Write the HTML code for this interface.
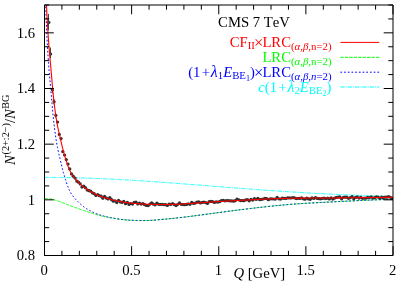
<!DOCTYPE html>
<html><head><meta charset="utf-8"><title>CMS 7 TeV</title>
<style>
html,body{margin:0;padding:0;background:#fff;}
body{width:399px;height:282px;overflow:hidden;font-family:"Liberation Serif",serif;}
svg{display:block;will-change:transform;}
</style></head><body>
<svg width="399" height="282" viewBox="0 0 399 282"><rect width="399" height="282" fill="#fff"/><defs><clipPath id="c"><rect x="44.50" y="5.00" width="348.50" height="250.50"/></clipPath></defs><g clip-path="url(#c)" fill="none" stroke-width="1"><path d="M44.50,177.40L45.00,177.40L45.50,177.40L46.00,177.40L46.49,177.40L46.99,177.40L47.49,177.40L47.99,177.40L48.49,177.40L48.99,177.41L49.49,177.41L49.98,177.41L50.48,177.41L50.98,177.42L51.48,177.42L51.98,177.42L52.48,177.42L52.98,177.43L53.47,177.43L53.97,177.43L54.47,177.44L54.97,177.44L55.47,177.45L55.97,177.45L56.47,177.46L56.96,177.46L57.46,177.47L57.96,177.47L58.46,177.48L58.96,177.48L59.46,177.49L59.96,177.49L60.45,177.50L60.95,177.51L61.45,177.51L61.95,177.52L62.45,177.53L62.95,177.53L63.45,177.54L63.94,177.55L64.44,177.56L64.94,177.56L65.44,177.57L65.94,177.58L66.44,177.59L66.94,177.60L67.43,177.61L67.93,177.62L68.43,177.63L68.93,177.64L69.43,177.65L69.93,177.66L70.43,177.67L70.92,177.68L71.42,177.69L71.92,177.70L72.42,177.71L72.92,177.72L73.42,177.73L73.92,177.74L74.41,177.75L74.91,177.77L75.41,177.78L75.91,177.79L76.41,177.80L76.91,177.81L77.41,177.83L77.90,177.84L78.40,177.85L78.90,177.87L79.40,177.88L79.90,177.89L80.40,177.91L80.90,177.92L81.39,177.94L81.89,177.95L82.39,177.97L82.89,177.98L83.39,178.00L83.89,178.01L84.39,178.03L84.88,178.04L85.38,178.06L85.88,178.07L86.38,178.09L86.88,178.11L87.38,178.12L87.88,178.14L88.37,178.15L88.87,178.17L89.37,178.19L89.87,178.21L90.37,178.22L90.87,178.24L91.37,178.26L91.86,178.28L92.36,178.30L92.86,178.31L93.36,178.33L93.86,178.35L94.36,178.37L94.86,178.39L95.35,178.41L95.85,178.43L96.35,178.45L96.85,178.47L97.35,178.49L97.85,178.51L98.35,178.53L98.84,178.55L99.34,178.57L99.84,178.59L100.34,178.61L100.84,178.63L101.34,178.65L101.84,178.67L102.33,178.70L102.83,178.72L103.33,178.74L103.83,178.76L104.33,178.78L104.83,178.81L105.33,178.83L105.82,178.85L106.32,178.87L106.82,178.90L107.32,178.92L107.82,178.94L108.32,178.97L108.82,178.99L109.31,179.02L109.81,179.04L110.31,179.06L110.81,179.09L111.31,179.11L111.81,179.14L112.31,179.16L112.80,179.19L113.30,179.21L113.80,179.24L114.30,179.26L114.80,179.29L115.30,179.31L115.80,179.34L116.29,179.36L116.79,179.39L117.29,179.42L117.79,179.44L118.29,179.47L118.79,179.50L119.29,179.52L119.78,179.55L120.28,179.58L120.78,179.60L121.28,179.63L121.78,179.66L122.28,179.69L122.78,179.71L123.27,179.74L123.77,179.77L124.27,179.80L124.77,179.83L125.27,179.86L125.77,179.88L126.27,179.91L126.76,179.94L127.26,179.97L127.76,180.00L128.26,180.03L128.76,180.06L129.26,180.09L129.76,180.12L130.25,180.15L130.75,180.18L131.25,180.21L131.75,180.24L132.25,180.27L132.75,180.30L133.25,180.33L133.74,180.36L134.24,180.39L134.74,180.42L135.24,180.45L135.74,180.48L136.24,180.51L136.74,180.55L137.23,180.58L137.73,180.61L138.23,180.64L138.73,180.67L139.23,180.70L139.73,180.74L140.23,180.77L140.72,180.80L141.22,180.83L141.72,180.86L142.22,180.90L142.72,180.93L143.22,180.96L143.72,181.00L144.21,181.03L144.71,181.06L145.21,181.09L145.71,181.13L146.21,181.16L146.71,181.20L147.21,181.23L147.70,181.26L148.20,181.30L148.70,181.33L149.20,181.36L149.70,181.40L150.20,181.43L150.70,181.47L151.19,181.50L151.69,181.54L152.19,181.57L152.69,181.60L153.19,181.64L153.69,181.67L154.19,181.71L154.68,181.74L155.18,181.78L155.68,181.81L156.18,181.85L156.68,181.88L157.18,181.92L157.68,181.96L158.17,181.99L158.67,182.03L159.17,182.06L159.67,182.10L160.17,182.13L160.67,182.17L161.17,182.21L161.66,182.24L162.16,182.28L162.66,182.31L163.16,182.35L163.66,182.39L164.16,182.42L164.66,182.46L165.15,182.50L165.65,182.53L166.15,182.57L166.65,182.61L167.15,182.64L167.65,182.68L168.15,182.72L168.64,182.75L169.14,182.79L169.64,182.83L170.14,182.87L170.64,182.90L171.14,182.94L171.64,182.98L172.13,183.02L172.63,183.05L173.13,183.09L173.63,183.13L174.13,183.17L174.63,183.20L175.13,183.24L175.62,183.28L176.12,183.32L176.62,183.36L177.12,183.39L177.62,183.43L178.12,183.47L178.62,183.51L179.11,183.55L179.61,183.58L180.11,183.62L180.61,183.66L181.11,183.70L181.61,183.74L182.11,183.78L182.60,183.82L183.10,183.85L183.60,183.89L184.10,183.93L184.60,183.97L185.10,184.01L185.60,184.05L186.09,184.09L186.59,184.12L187.09,184.16L187.59,184.20L188.09,184.24L188.59,184.28L189.09,184.32L189.58,184.36L190.08,184.40L190.58,184.44L191.08,184.48L191.58,184.51L192.08,184.55L192.58,184.59L193.07,184.63L193.57,184.67L194.07,184.71L194.57,184.75L195.07,184.79L195.57,184.83L196.07,184.87L196.56,184.91L197.06,184.95L197.56,184.99L198.06,185.02L198.56,185.06L199.06,185.10L199.56,185.14L200.05,185.18L200.55,185.22L201.05,185.26L201.55,185.30L202.05,185.34L202.55,185.38L203.05,185.42L203.54,185.46L204.04,185.50L204.54,185.54L205.04,185.58L205.54,185.62L206.04,185.66L206.54,185.70L207.03,185.73L207.53,185.77L208.03,185.81L208.53,185.85L209.03,185.89L209.53,185.93L210.03,185.97L210.52,186.01L211.02,186.05L211.52,186.09L212.02,186.13L212.52,186.17L213.02,186.21L213.52,186.25L214.01,186.29L214.51,186.33L215.01,186.37L215.51,186.41L216.01,186.45L216.51,186.48L217.01,186.52L217.50,186.56L218.00,186.60L218.50,186.64L219.00,186.68L219.50,186.72L220.00,186.76L220.49,186.80L220.99,186.84L221.49,186.88L221.99,186.92L222.49,186.96L222.99,187.00L223.49,187.03L223.98,187.07L224.48,187.11L224.98,187.15L225.48,187.19L225.98,187.23L226.48,187.27L226.98,187.31L227.47,187.35L227.97,187.39L228.47,187.43L228.97,187.46L229.47,187.50L229.97,187.54L230.47,187.58L230.96,187.62L231.46,187.66L231.96,187.70L232.46,187.74L232.96,187.77L233.46,187.81L233.96,187.85L234.45,187.89L234.95,187.93L235.45,187.97L235.95,188.01L236.45,188.04L236.95,188.08L237.45,188.12L237.94,188.16L238.44,188.20L238.94,188.23L239.44,188.27L239.94,188.31L240.44,188.35L240.94,188.39L241.43,188.43L241.93,188.46L242.43,188.50L242.93,188.54L243.43,188.58L243.93,188.61L244.43,188.65L244.92,188.69L245.42,188.73L245.92,188.76L246.42,188.80L246.92,188.84L247.42,188.88L247.92,188.91L248.41,188.95L248.91,188.99L249.41,189.03L249.91,189.06L250.41,189.10L250.91,189.14L251.41,189.17L251.90,189.21L252.40,189.25L252.90,189.29L253.40,189.32L253.90,189.36L254.40,189.40L254.90,189.43L255.39,189.47L255.89,189.51L256.39,189.54L256.89,189.58L257.39,189.61L257.89,189.65L258.39,189.69L258.88,189.72L259.38,189.76L259.88,189.79L260.38,189.83L260.88,189.87L261.38,189.90L261.88,189.94L262.37,189.97L262.87,190.01L263.37,190.05L263.87,190.08L264.37,190.12L264.87,190.15L265.37,190.19L265.86,190.22L266.36,190.26L266.86,190.29L267.36,190.33L267.86,190.36L268.36,190.40L268.86,190.43L269.35,190.47L269.85,190.50L270.35,190.54L270.85,190.57L271.35,190.61L271.85,190.64L272.35,190.67L272.84,190.71L273.34,190.74L273.84,190.78L274.34,190.81L274.84,190.84L275.34,190.88L275.84,190.91L276.33,190.95L276.83,190.98L277.33,191.01L277.83,191.05L278.33,191.08L278.83,191.11L279.33,191.15L279.82,191.18L280.32,191.21L280.82,191.25L281.32,191.28L281.82,191.31L282.32,191.35L282.82,191.38L283.31,191.41L283.81,191.44L284.31,191.48L284.81,191.51L285.31,191.54L285.81,191.57L286.31,191.61L286.80,191.64L287.30,191.67L287.80,191.70L288.30,191.73L288.80,191.77L289.30,191.80L289.80,191.83L290.29,191.86L290.79,191.89L291.29,191.92L291.79,191.96L292.29,191.99L292.79,192.02L293.29,192.05L293.78,192.08L294.28,192.11L294.78,192.14L295.28,192.17L295.78,192.20L296.28,192.23L296.78,192.26L297.27,192.29L297.77,192.33L298.27,192.36L298.77,192.39L299.27,192.42L299.77,192.45L300.27,192.48L300.76,192.51L301.26,192.54L301.76,192.56L302.26,192.59L302.76,192.62L303.26,192.65L303.76,192.68L304.25,192.71L304.75,192.74L305.25,192.77L305.75,192.80L306.25,192.83L306.75,192.86L307.25,192.89L307.74,192.91L308.24,192.94L308.74,192.97L309.24,193.00L309.74,193.03L310.24,193.06L310.74,193.08L311.23,193.11L311.73,193.14L312.23,193.17L312.73,193.20L313.23,193.22L313.73,193.25L314.23,193.28L314.72,193.31L315.22,193.33L315.72,193.36L316.22,193.39L316.72,193.42L317.22,193.44L317.72,193.47L318.21,193.50L318.71,193.52L319.21,193.55L319.71,193.58L320.21,193.60L320.71,193.63L321.21,193.65L321.70,193.68L322.20,193.71L322.70,193.73L323.20,193.76L323.70,193.79L324.20,193.81L324.70,193.84L325.19,193.86L325.69,193.89L326.19,193.91L326.69,193.94L327.19,193.96L327.69,193.99L328.19,194.01L328.68,194.04L329.18,194.06L329.68,194.09L330.18,194.11L330.68,194.14L331.18,194.16L331.68,194.19L332.17,194.21L332.67,194.23L333.17,194.26L333.67,194.28L334.17,194.31L334.67,194.33L335.17,194.35L335.66,194.38L336.16,194.40L336.66,194.43L337.16,194.45L337.66,194.47L338.16,194.50L338.66,194.52L339.15,194.54L339.65,194.56L340.15,194.59L340.65,194.61L341.15,194.63L341.65,194.66L342.15,194.68L342.64,194.70L343.14,194.72L343.64,194.75L344.14,194.77L344.64,194.79L345.14,194.81L345.64,194.83L346.13,194.86L346.63,194.88L347.13,194.90L347.63,194.92L348.13,194.94L348.63,194.96L349.13,194.99L349.62,195.01L350.12,195.03L350.62,195.05L351.12,195.07L351.62,195.09L352.12,195.11L352.62,195.13L353.11,195.15L353.61,195.17L354.11,195.19L354.61,195.21L355.11,195.23L355.61,195.25L356.11,195.28L356.60,195.30L357.10,195.32L357.60,195.33L358.10,195.35L358.60,195.37L359.10,195.39L359.60,195.41L360.09,195.43L360.59,195.45L361.09,195.47L361.59,195.49L362.09,195.51L362.59,195.53L363.09,195.55L363.58,195.57L364.08,195.59L364.58,195.60L365.08,195.62L365.58,195.64L366.08,195.66L366.58,195.68L367.07,195.70L367.57,195.71L368.07,195.73L368.57,195.75L369.07,195.77L369.57,195.79L370.07,195.80L370.56,195.82L371.06,195.84L371.56,195.86L372.06,195.88L372.56,195.89L373.06,195.91L373.56,195.93L374.05,195.94L374.55,195.96L375.05,195.98L375.55,196.00L376.05,196.01L376.55,196.03L377.05,196.05L377.54,196.06L378.04,196.08L378.54,196.10L379.04,196.11L379.54,196.13L380.04,196.14L380.54,196.16L381.03,196.18L381.53,196.19L382.03,196.21L382.53,196.22L383.03,196.24L383.53,196.26L384.03,196.27L384.52,196.29L385.02,196.30L385.52,196.32L386.02,196.33L386.52,196.35L387.02,196.36L387.52,196.38L388.01,196.39L388.51,196.41L389.01,196.42L389.51,196.44L390.01,196.45L390.51,196.47L391.01,196.48L391.50,196.50L392.00,196.51L392.50,196.52L393.00,196.54" stroke="#00ffff" stroke-dasharray="4.4,1,0.9,1"/><path d="M44.50,198.50L45.00,198.50L45.50,198.50L46.00,198.51L46.49,198.52L46.99,198.54L47.49,198.57L47.99,198.60L48.49,198.64L48.99,198.69L49.49,198.76L49.98,198.83L50.48,198.91L50.98,199.01L51.48,199.12L51.98,199.23L52.48,199.35L52.98,199.48L53.47,199.61L53.97,199.75L54.47,199.89L54.97,200.03L55.47,200.18L55.97,200.33L56.47,200.48L56.96,200.63L57.46,200.79L57.96,200.95L58.46,201.12L58.96,201.29L59.46,201.46L59.96,201.64L60.45,201.82L60.95,202.01L61.45,202.20L61.95,202.40L62.45,202.60L62.95,202.80L63.45,203.01L63.94,203.21L64.44,203.42L64.94,203.63L65.44,203.84L65.94,204.05L66.44,204.26L66.94,204.47L67.43,204.67L67.93,204.87L68.43,205.07L68.93,205.26L69.43,205.45L69.93,205.64L70.43,205.82L70.92,206.01L71.42,206.19L71.92,206.36L72.42,206.54L72.92,206.72L73.42,206.89L73.92,207.07L74.41,207.25L74.91,207.42L75.41,207.60L75.91,207.78L76.41,207.95L76.91,208.13L77.41,208.31L77.90,208.48L78.40,208.66L78.90,208.83L79.40,209.01L79.90,209.18L80.40,209.35L80.90,209.52L81.39,209.69L81.89,209.86L82.39,210.03L82.89,210.20L83.39,210.36L83.89,210.53L84.39,210.69L84.88,210.85L85.38,211.01L85.88,211.18L86.38,211.34L86.88,211.50L87.38,211.66L87.88,211.82L88.37,211.98L88.87,212.14L89.37,212.30L89.87,212.46L90.37,212.62L90.87,212.78L91.37,212.94L91.86,213.10L92.36,213.26L92.86,213.42L93.36,213.58L93.86,213.74L94.36,213.90L94.86,214.05L95.35,214.21L95.85,214.36L96.35,214.50L96.85,214.65L97.35,214.79L97.85,214.93L98.35,215.07L98.84,215.20L99.34,215.34L99.84,215.47L100.34,215.60L100.84,215.72L101.34,215.85L101.84,215.97L102.33,216.09L102.83,216.20L103.33,216.32L103.83,216.43L104.33,216.54L104.83,216.65L105.33,216.76L105.82,216.86L106.32,216.97L106.82,217.07L107.32,217.17L107.82,217.27L108.32,217.36L108.82,217.46L109.31,217.55L109.81,217.64L110.31,217.74L110.81,217.83L111.31,217.91L111.81,218.00L112.31,218.09L112.80,218.17L113.30,218.26L113.80,218.34L114.30,218.42L114.80,218.51L115.30,218.59L115.80,218.67L116.29,218.75L116.79,218.83L117.29,218.90L117.79,218.98L118.29,219.06L118.79,219.13L119.29,219.20L119.78,219.27L120.28,219.34L120.78,219.40L121.28,219.46L121.78,219.52L122.28,219.58L122.78,219.63L123.27,219.68L123.77,219.73L124.27,219.78L124.77,219.83L125.27,219.87L125.77,219.91L126.27,219.95L126.76,219.99L127.26,220.03L127.76,220.06L128.26,220.09L128.76,220.13L129.26,220.16L129.76,220.19L130.25,220.21L130.75,220.24L131.25,220.27L131.75,220.29L132.25,220.31L132.75,220.34L133.25,220.36L133.74,220.38L134.24,220.40L134.74,220.42L135.24,220.43L135.74,220.45L136.24,220.46L136.74,220.48L137.23,220.49L137.73,220.50L138.23,220.52L138.73,220.53L139.23,220.54L139.73,220.55L140.23,220.55L140.72,220.56L141.22,220.57L141.72,220.57L142.22,220.58L142.72,220.58L143.22,220.58L143.72,220.58L144.21,220.58L144.71,220.57L145.21,220.57L145.71,220.56L146.21,220.55L146.71,220.54L147.21,220.53L147.70,220.51L148.20,220.49L148.70,220.47L149.20,220.45L149.70,220.42L150.20,220.40L150.70,220.37L151.19,220.33L151.69,220.30L152.19,220.27L152.69,220.23L153.19,220.19L153.69,220.15L154.19,220.11L154.68,220.07L155.18,220.03L155.68,219.99L156.18,219.94L156.68,219.90L157.18,219.86L157.68,219.81L158.17,219.77L158.67,219.72L159.17,219.67L159.67,219.63L160.17,219.58L160.67,219.54L161.17,219.50L161.66,219.45L162.16,219.41L162.66,219.36L163.16,219.32L163.66,219.28L164.16,219.23L164.66,219.19L165.15,219.14L165.65,219.10L166.15,219.06L166.65,219.01L167.15,218.97L167.65,218.92L168.15,218.87L168.64,218.83L169.14,218.78L169.64,218.73L170.14,218.69L170.64,218.64L171.14,218.59L171.64,218.54L172.13,218.49L172.63,218.44L173.13,218.39L173.63,218.34L174.13,218.28L174.63,218.23L175.13,218.18L175.62,218.12L176.12,218.07L176.62,218.01L177.12,217.96L177.62,217.90L178.12,217.85L178.62,217.79L179.11,217.73L179.61,217.67L180.11,217.62L180.61,217.56L181.11,217.50L181.61,217.44L182.11,217.38L182.60,217.32L183.10,217.26L183.60,217.20L184.10,217.14L184.60,217.08L185.10,217.02L185.60,216.96L186.09,216.89L186.59,216.83L187.09,216.77L187.59,216.71L188.09,216.64L188.59,216.58L189.09,216.52L189.58,216.45L190.08,216.39L190.58,216.33L191.08,216.26L191.58,216.20L192.08,216.13L192.58,216.07L193.07,216.00L193.57,215.94L194.07,215.87L194.57,215.81L195.07,215.74L195.57,215.68L196.07,215.61L196.56,215.55L197.06,215.48L197.56,215.42L198.06,215.35L198.56,215.28L199.06,215.22L199.56,215.15L200.05,215.08L200.55,215.02L201.05,214.95L201.55,214.88L202.05,214.82L202.55,214.75L203.05,214.68L203.54,214.62L204.04,214.55L204.54,214.48L205.04,214.42L205.54,214.35L206.04,214.28L206.54,214.21L207.03,214.15L207.53,214.08L208.03,214.01L208.53,213.95L209.03,213.88L209.53,213.81L210.03,213.74L210.52,213.68L211.02,213.61L211.52,213.54L212.02,213.47L212.52,213.41L213.02,213.34L213.52,213.27L214.01,213.20L214.51,213.14L215.01,213.07L215.51,213.00L216.01,212.94L216.51,212.87L217.01,212.80L217.50,212.73L218.00,212.67L218.50,212.60L219.00,212.53L219.50,212.47L220.00,212.40L220.49,212.33L220.99,212.27L221.49,212.20L221.99,212.13L222.49,212.07L222.99,212.00L223.49,211.94L223.98,211.87L224.48,211.80L224.98,211.74L225.48,211.67L225.98,211.61L226.48,211.54L226.98,211.48L227.47,211.41L227.97,211.35L228.47,211.28L228.97,211.22L229.47,211.15L229.97,211.09L230.47,211.02L230.96,210.96L231.46,210.89L231.96,210.83L232.46,210.76L232.96,210.70L233.46,210.64L233.96,210.57L234.45,210.51L234.95,210.44L235.45,210.38L235.95,210.32L236.45,210.25L236.95,210.19L237.45,210.13L237.94,210.06L238.44,210.00L238.94,209.94L239.44,209.87L239.94,209.81L240.44,209.75L240.94,209.69L241.43,209.62L241.93,209.56L242.43,209.50L242.93,209.44L243.43,209.38L243.93,209.31L244.43,209.25L244.92,209.19L245.42,209.13L245.92,209.07L246.42,209.01L246.92,208.95L247.42,208.89L247.92,208.83L248.41,208.77L248.91,208.71L249.41,208.65L249.91,208.58L250.41,208.53L250.91,208.47L251.41,208.41L251.90,208.35L252.40,208.29L252.90,208.23L253.40,208.17L253.90,208.11L254.40,208.05L254.90,207.99L255.39,207.93L255.89,207.87L256.39,207.82L256.89,207.76L257.39,207.70L257.89,207.64L258.39,207.59L258.88,207.53L259.38,207.47L259.88,207.41L260.38,207.36L260.88,207.30L261.38,207.24L261.88,207.19L262.37,207.13L262.87,207.07L263.37,207.02L263.87,206.96L264.37,206.91L264.87,206.85L265.37,206.80L265.86,206.74L266.36,206.69L266.86,206.63L267.36,206.58L267.86,206.52L268.36,206.47L268.86,206.42L269.35,206.36L269.85,206.31L270.35,206.26L270.85,206.20L271.35,206.15L271.85,206.10L272.35,206.05L272.84,205.99L273.34,205.94L273.84,205.89L274.34,205.84L274.84,205.79L275.34,205.74L275.84,205.69L276.33,205.64L276.83,205.59L277.33,205.54L277.83,205.49L278.33,205.44L278.83,205.39L279.33,205.35L279.82,205.30L280.32,205.25L280.82,205.20L281.32,205.16L281.82,205.11L282.32,205.07L282.82,205.02L283.31,204.97L283.81,204.93L284.31,204.88L284.81,204.84L285.31,204.80L285.81,204.75L286.31,204.71L286.80,204.67L287.30,204.62L287.80,204.58L288.30,204.54L288.80,204.50L289.30,204.46L289.80,204.42L290.29,204.38L290.79,204.34L291.29,204.30L291.79,204.26L292.29,204.22L292.79,204.18L293.29,204.14L293.78,204.11L294.28,204.07L294.78,204.03L295.28,204.00L295.78,203.96L296.28,203.92L296.78,203.89L297.27,203.85L297.77,203.82L298.27,203.78L298.77,203.75L299.27,203.72L299.77,203.68L300.27,203.65L300.76,203.62L301.26,203.58L301.76,203.55L302.26,203.52L302.76,203.49L303.26,203.46L303.76,203.42L304.25,203.39L304.75,203.36L305.25,203.33L305.75,203.30L306.25,203.27L306.75,203.24L307.25,203.21L307.74,203.18L308.24,203.15L308.74,203.12L309.24,203.09L309.74,203.07L310.24,203.04L310.74,203.01L311.23,202.98L311.73,202.95L312.23,202.93L312.73,202.90L313.23,202.87L313.73,202.84L314.23,202.82L314.72,202.79L315.22,202.76L315.72,202.73L316.22,202.71L316.72,202.68L317.22,202.66L317.72,202.63L318.21,202.60L318.71,202.58L319.21,202.55L319.71,202.52L320.21,202.50L320.71,202.47L321.21,202.45L321.70,202.42L322.20,202.40L322.70,202.37L323.20,202.35L323.70,202.32L324.20,202.29L324.70,202.27L325.19,202.24L325.69,202.22L326.19,202.19L326.69,202.17L327.19,202.14L327.69,202.12L328.19,202.09L328.68,202.07L329.18,202.04L329.68,202.02L330.18,201.99L330.68,201.97L331.18,201.94L331.68,201.91L332.17,201.89L332.67,201.86L333.17,201.84L333.67,201.81L334.17,201.79L334.67,201.76L335.17,201.74L335.66,201.71L336.16,201.68L336.66,201.66L337.16,201.63L337.66,201.61L338.16,201.58L338.66,201.56L339.15,201.53L339.65,201.51L340.15,201.48L340.65,201.46L341.15,201.43L341.65,201.40L342.15,201.38L342.64,201.35L343.14,201.33L343.64,201.30L344.14,201.28L344.64,201.25L345.14,201.23L345.64,201.20L346.13,201.18L346.63,201.15L347.13,201.13L347.63,201.10L348.13,201.08L348.63,201.05L349.13,201.03L349.62,201.00L350.12,200.98L350.62,200.95L351.12,200.93L351.62,200.90L352.12,200.88L352.62,200.85L353.11,200.83L353.61,200.80L354.11,200.78L354.61,200.76L355.11,200.73L355.61,200.71L356.11,200.68L356.60,200.66L357.10,200.64L357.60,200.61L358.10,200.59L358.60,200.57L359.10,200.54L359.60,200.52L360.09,200.50L360.59,200.47L361.09,200.45L361.59,200.43L362.09,200.40L362.59,200.38L363.09,200.36L363.58,200.34L364.08,200.31L364.58,200.29L365.08,200.27L365.58,200.25L366.08,200.23L366.58,200.20L367.07,200.18L367.57,200.16L368.07,200.14L368.57,200.12L369.07,200.10L369.57,200.08L370.07,200.06L370.56,200.04L371.06,200.02L371.56,200.00L372.06,199.98L372.56,199.96L373.06,199.94L373.56,199.92L374.05,199.90L374.55,199.88L375.05,199.86L375.55,199.84L376.05,199.82L376.55,199.80L377.05,199.78L377.54,199.76L378.04,199.75L378.54,199.73L379.04,199.71L379.54,199.69L380.04,199.68L380.54,199.66L381.03,199.64L381.53,199.63L382.03,199.61L382.53,199.59L383.03,199.58L383.53,199.56L384.03,199.54L384.52,199.53L385.02,199.51L385.52,199.50L386.02,199.48L386.52,199.47L387.02,199.46L387.52,199.44L388.01,199.43L388.51,199.41L389.01,199.40L389.51,199.39L390.01,199.37L390.51,199.36L391.01,199.35L391.50,199.34L392.00,199.32L392.50,199.31L393.00,199.30" stroke="#00ff00" stroke-dasharray="3.3,1.15"/><path d="M44.50,-30.47L45.00,-16.87L45.50,-2.64L46.00,12.92L46.49,27.06L46.99,37.85L47.49,47.07L47.99,55.20L48.49,62.61L48.99,69.20L49.49,75.10L49.98,80.63L50.48,86.06L50.98,91.60L51.48,97.36L51.98,103.17L52.48,108.84L52.98,114.23L53.47,119.21L53.97,123.70L54.47,127.84L54.97,131.72L55.47,135.34L55.97,138.72L56.47,141.85L56.96,144.74L57.46,147.39L57.96,149.80L58.46,152.05L58.96,154.22L59.46,156.36L59.96,158.51L60.45,160.68L60.95,162.81L61.45,164.89L61.95,166.92L62.45,168.89L62.95,170.81L63.45,172.66L63.94,174.45L64.44,176.17L64.94,177.83L65.44,179.44L65.94,181.03L66.44,182.57L66.94,184.05L67.43,185.46L67.93,186.80L68.43,188.05L68.93,189.21L69.43,190.29L69.93,191.28L70.43,192.19L70.92,193.05L71.42,193.85L71.92,194.62L72.42,195.34L72.92,196.03L73.42,196.69L73.92,197.32L74.41,197.92L74.91,198.50L75.41,199.06L75.91,199.58L76.41,200.08L76.91,200.58L77.41,201.08L77.90,201.59L78.40,202.10L78.90,202.61L79.40,203.10L79.90,203.58L80.40,204.04L80.90,204.50L81.39,204.95L81.89,205.37L82.39,205.77L82.89,206.15L83.39,206.52L83.89,206.87L84.39,207.22L84.88,207.56L85.38,207.89L85.88,208.22L86.38,208.54L86.88,208.85L87.38,209.16L87.88,209.46L88.37,209.75L88.87,210.04L89.37,210.32L89.87,210.60L90.37,210.87L90.87,211.14L91.37,211.40L91.86,211.65L92.36,211.90L92.86,212.14L93.36,212.38L93.86,212.61L94.36,212.83L94.86,213.05L95.35,213.26L95.85,213.47L96.35,213.67L96.85,213.86L97.35,214.04L97.85,214.23L98.35,214.40L98.84,214.58L99.34,214.74L99.84,214.91L100.34,215.06L100.84,215.22L101.34,215.37L101.84,215.52L102.33,215.66L102.83,215.80L103.33,215.94L103.83,216.07L104.33,216.20L104.83,216.33L105.33,216.45L105.82,216.57L106.32,216.69L106.82,216.81L107.32,216.92L107.82,217.03L108.32,217.14L108.82,217.25L109.31,217.35L109.81,217.46L110.31,217.56L110.81,217.66L111.31,217.75L111.81,217.85L112.31,217.94L112.80,218.04L113.30,218.13L113.80,218.22L114.30,218.31L114.80,218.39L115.30,218.48L115.80,218.57L116.29,218.65L116.79,218.74L117.29,218.82L117.79,218.90L118.29,218.98L118.79,219.06L119.29,219.13L119.78,219.20L120.28,219.27L120.78,219.34L121.28,219.41L121.78,219.47L122.28,219.53L122.78,219.58L123.27,219.64L123.77,219.69L124.27,219.74L124.77,219.79L125.27,219.83L125.77,219.88L126.27,219.92L126.76,219.96L127.26,220.00L127.76,220.03L128.26,220.07L128.76,220.10L129.26,220.13L129.76,220.16L130.25,220.19L130.75,220.22L131.25,220.25L131.75,220.27L132.25,220.30L132.75,220.32L133.25,220.34L133.74,220.36L134.24,220.38L134.74,220.40L135.24,220.42L135.74,220.44L136.24,220.45L136.74,220.47L137.23,220.48L137.73,220.49L138.23,220.51L138.73,220.52L139.23,220.53L139.73,220.54L140.23,220.55L140.72,220.55L141.22,220.56L141.72,220.57L142.22,220.57L142.72,220.57L143.22,220.57L143.72,220.57L144.21,220.57L144.71,220.57L145.21,220.56L145.71,220.56L146.21,220.55L146.71,220.54L147.21,220.52L147.70,220.51L148.20,220.49L148.70,220.47L149.20,220.45L149.70,220.42L150.20,220.39L150.70,220.36L151.19,220.33L151.69,220.30L152.19,220.26L152.69,220.23L153.19,220.19L153.69,220.15L154.19,220.11L154.68,220.07L155.18,220.03L155.68,219.99L156.18,219.94L156.68,219.90L157.18,219.85L157.68,219.81L158.17,219.76L158.67,219.72L159.17,219.67L159.67,219.63L160.17,219.58L160.67,219.54L161.17,219.49L161.66,219.45L162.16,219.41L162.66,219.36L163.16,219.32L163.66,219.28L164.16,219.23L164.66,219.19L165.15,219.14L165.65,219.10L166.15,219.05L166.65,219.01L167.15,218.97L167.65,218.92L168.15,218.87L168.64,218.83L169.14,218.78L169.64,218.73L170.14,218.69L170.64,218.64L171.14,218.59L171.64,218.54L172.13,218.49L172.63,218.44L173.13,218.39L173.63,218.34L174.13,218.28L174.63,218.23L175.13,218.18L175.62,218.12L176.12,218.07L176.62,218.01L177.12,217.96L177.62,217.90L178.12,217.85L178.62,217.79L179.11,217.73L179.61,217.67L180.11,217.62L180.61,217.56L181.11,217.50L181.61,217.44L182.11,217.38L182.60,217.32L183.10,217.26L183.60,217.20L184.10,217.14L184.60,217.08L185.10,217.02L185.60,216.96L186.09,216.89L186.59,216.83L187.09,216.77L187.59,216.71L188.09,216.64L188.59,216.58L189.09,216.52L189.58,216.45L190.08,216.39L190.58,216.33L191.08,216.26L191.58,216.20L192.08,216.13L192.58,216.07L193.07,216.00L193.57,215.94L194.07,215.87L194.57,215.81L195.07,215.74L195.57,215.68L196.07,215.61L196.56,215.55L197.06,215.48L197.56,215.42L198.06,215.35L198.56,215.28L199.06,215.22L199.56,215.15L200.05,215.08L200.55,215.02L201.05,214.95L201.55,214.88L202.05,214.82L202.55,214.75L203.05,214.68L203.54,214.62L204.04,214.55L204.54,214.48L205.04,214.42L205.54,214.35L206.04,214.28L206.54,214.21L207.03,214.15L207.53,214.08L208.03,214.01L208.53,213.95L209.03,213.88L209.53,213.81L210.03,213.74L210.52,213.68L211.02,213.61L211.52,213.54L212.02,213.47L212.52,213.41L213.02,213.34L213.52,213.27L214.01,213.20L214.51,213.14L215.01,213.07L215.51,213.00L216.01,212.94L216.51,212.87L217.01,212.80L217.50,212.73L218.00,212.67L218.50,212.60L219.00,212.53L219.50,212.47L220.00,212.40L220.49,212.33L220.99,212.27L221.49,212.20L221.99,212.13L222.49,212.07L222.99,212.00L223.49,211.94L223.98,211.87L224.48,211.80L224.98,211.74L225.48,211.67L225.98,211.61L226.48,211.54L226.98,211.48L227.47,211.41L227.97,211.35L228.47,211.28L228.97,211.22L229.47,211.15L229.97,211.09L230.47,211.02L230.96,210.96L231.46,210.89L231.96,210.83L232.46,210.76L232.96,210.70L233.46,210.64L233.96,210.57L234.45,210.51L234.95,210.44L235.45,210.38L235.95,210.32L236.45,210.25L236.95,210.19L237.45,210.13L237.94,210.06L238.44,210.00L238.94,209.94L239.44,209.87L239.94,209.81L240.44,209.75L240.94,209.69L241.43,209.62L241.93,209.56L242.43,209.50L242.93,209.44L243.43,209.38L243.93,209.31L244.43,209.25L244.92,209.19L245.42,209.13L245.92,209.07L246.42,209.01L246.92,208.95L247.42,208.89L247.92,208.83L248.41,208.77L248.91,208.71L249.41,208.65L249.91,208.58L250.41,208.53L250.91,208.47L251.41,208.41L251.90,208.35L252.40,208.29L252.90,208.23L253.40,208.17L253.90,208.11L254.40,208.05L254.90,207.99L255.39,207.93L255.89,207.87L256.39,207.82L256.89,207.76L257.39,207.70L257.89,207.64L258.39,207.59L258.88,207.53L259.38,207.47L259.88,207.41L260.38,207.36L260.88,207.30L261.38,207.24L261.88,207.19L262.37,207.13L262.87,207.07L263.37,207.02L263.87,206.96L264.37,206.91L264.87,206.85L265.37,206.80L265.86,206.74L266.36,206.69L266.86,206.63L267.36,206.58L267.86,206.52L268.36,206.47L268.86,206.42L269.35,206.36L269.85,206.31L270.35,206.26L270.85,206.20L271.35,206.15L271.85,206.10L272.35,206.05L272.84,205.99L273.34,205.94L273.84,205.89L274.34,205.84L274.84,205.79L275.34,205.74L275.84,205.69L276.33,205.64L276.83,205.59L277.33,205.54L277.83,205.49L278.33,205.44L278.83,205.39L279.33,205.35L279.82,205.30L280.32,205.25L280.82,205.20L281.32,205.16L281.82,205.11L282.32,205.07L282.82,205.02L283.31,204.97L283.81,204.93L284.31,204.88L284.81,204.84L285.31,204.80L285.81,204.75L286.31,204.71L286.80,204.67L287.30,204.62L287.80,204.58L288.30,204.54L288.80,204.50L289.30,204.46L289.80,204.42L290.29,204.38L290.79,204.34L291.29,204.30L291.79,204.26L292.29,204.22L292.79,204.18L293.29,204.14L293.78,204.11L294.28,204.07L294.78,204.03L295.28,204.00L295.78,203.96L296.28,203.92L296.78,203.89L297.27,203.85L297.77,203.82L298.27,203.78L298.77,203.75L299.27,203.72L299.77,203.68L300.27,203.65L300.76,203.62L301.26,203.58L301.76,203.55L302.26,203.52L302.76,203.49L303.26,203.46L303.76,203.42L304.25,203.39L304.75,203.36L305.25,203.33L305.75,203.30L306.25,203.27L306.75,203.24L307.25,203.21L307.74,203.18L308.24,203.15L308.74,203.12L309.24,203.09L309.74,203.07L310.24,203.04L310.74,203.01L311.23,202.98L311.73,202.95L312.23,202.93L312.73,202.90L313.23,202.87L313.73,202.84L314.23,202.82L314.72,202.79L315.22,202.76L315.72,202.73L316.22,202.71L316.72,202.68L317.22,202.66L317.72,202.63L318.21,202.60L318.71,202.58L319.21,202.55L319.71,202.52L320.21,202.50L320.71,202.47L321.21,202.45L321.70,202.42L322.20,202.40L322.70,202.37L323.20,202.35L323.70,202.32L324.20,202.29L324.70,202.27L325.19,202.24L325.69,202.22L326.19,202.19L326.69,202.17L327.19,202.14L327.69,202.12L328.19,202.09L328.68,202.07L329.18,202.04L329.68,202.02L330.18,201.99L330.68,201.97L331.18,201.94L331.68,201.91L332.17,201.89L332.67,201.86L333.17,201.84L333.67,201.81L334.17,201.79L334.67,201.76L335.17,201.74L335.66,201.71L336.16,201.68L336.66,201.66L337.16,201.63L337.66,201.61L338.16,201.58L338.66,201.56L339.15,201.53L339.65,201.51L340.15,201.48L340.65,201.46L341.15,201.43L341.65,201.40L342.15,201.38L342.64,201.35L343.14,201.33L343.64,201.30L344.14,201.28L344.64,201.25L345.14,201.23L345.64,201.20L346.13,201.18L346.63,201.15L347.13,201.13L347.63,201.10L348.13,201.08L348.63,201.05L349.13,201.03L349.62,201.00L350.12,200.98L350.62,200.95L351.12,200.93L351.62,200.90L352.12,200.88L352.62,200.85L353.11,200.83L353.61,200.80L354.11,200.78L354.61,200.76L355.11,200.73L355.61,200.71L356.11,200.68L356.60,200.66L357.10,200.64L357.60,200.61L358.10,200.59L358.60,200.57L359.10,200.54L359.60,200.52L360.09,200.50L360.59,200.47L361.09,200.45L361.59,200.43L362.09,200.40L362.59,200.38L363.09,200.36L363.58,200.34L364.08,200.31L364.58,200.29L365.08,200.27L365.58,200.25L366.08,200.23L366.58,200.20L367.07,200.18L367.57,200.16L368.07,200.14L368.57,200.12L369.07,200.10L369.57,200.08L370.07,200.06L370.56,200.04L371.06,200.02L371.56,200.00L372.06,199.98L372.56,199.96L373.06,199.94L373.56,199.92L374.05,199.90L374.55,199.88L375.05,199.86L375.55,199.84L376.05,199.82L376.55,199.80L377.05,199.78L377.54,199.76L378.04,199.75L378.54,199.73L379.04,199.71L379.54,199.69L380.04,199.68L380.54,199.66L381.03,199.64L381.53,199.63L382.03,199.61L382.53,199.59L383.03,199.58L383.53,199.56L384.03,199.54L384.52,199.53L385.02,199.51L385.52,199.50L386.02,199.48L386.52,199.47L387.02,199.46L387.52,199.44L388.01,199.43L388.51,199.41L389.01,199.40L389.51,199.39L390.01,199.37L390.51,199.36L391.01,199.35L391.50,199.34L392.00,199.32L392.50,199.31L393.00,199.30" stroke="#0000ff" stroke-dasharray="1.7,2"/><g fill="#303030" stroke="none"><circle cx="48.86" cy="22.40" r="1.62"/><circle cx="50.60" cy="54.00" r="1.62"/><circle cx="52.34" cy="89.70" r="1.62"/><circle cx="54.08" cy="101.70" r="1.62"/><circle cx="55.83" cy="115.30" r="1.62"/><circle cx="57.57" cy="122.00" r="1.62"/><circle cx="59.31" cy="134.40" r="1.62"/><circle cx="61.05" cy="138.60" r="1.62"/><circle cx="62.80" cy="151.60" r="1.62"/><circle cx="64.54" cy="155.00" r="1.62"/><circle cx="66.28" cy="159.60" r="1.62"/><circle cx="68.02" cy="164.00" r="1.62"/><circle cx="69.77" cy="168.92" r="1.62"/><circle cx="71.51" cy="173.99" r="1.62"/><circle cx="73.25" cy="176.20" r="1.62"/><circle cx="74.99" cy="178.10" r="1.62"/><circle cx="76.74" cy="181.01" r="1.62"/><circle cx="78.48" cy="182.19" r="1.62"/><circle cx="80.22" cy="183.96" r="1.62"/><circle cx="81.96" cy="187.03" r="1.62"/><circle cx="83.71" cy="186.12" r="1.62"/><circle cx="85.45" cy="187.73" r="1.62"/><circle cx="87.19" cy="189.93" r="1.62"/><circle cx="88.93" cy="190.67" r="1.62"/><circle cx="90.68" cy="191.17" r="1.62"/><circle cx="92.42" cy="192.78" r="1.62"/><circle cx="94.16" cy="193.67" r="1.62"/><circle cx="95.90" cy="195.48" r="1.62"/><circle cx="97.65" cy="194.64" r="1.62"/><circle cx="99.39" cy="195.68" r="1.62"/><circle cx="101.13" cy="196.21" r="1.62"/><circle cx="102.87" cy="198.23" r="1.62"/><circle cx="104.62" cy="196.31" r="1.62"/><circle cx="106.36" cy="198.03" r="1.62"/><circle cx="108.10" cy="198.98" r="1.62"/><circle cx="109.84" cy="197.62" r="1.62"/><circle cx="111.59" cy="199.68" r="1.62"/><circle cx="113.33" cy="201.19" r="1.62"/><circle cx="115.07" cy="200.79" r="1.62"/><circle cx="116.81" cy="202.60" r="1.62"/><circle cx="118.56" cy="200.45" r="1.62"/><circle cx="120.30" cy="201.90" r="1.62"/><circle cx="122.04" cy="202.46" r="1.62"/><circle cx="123.78" cy="201.39" r="1.62"/><circle cx="125.53" cy="203.68" r="1.62"/><circle cx="127.27" cy="202.28" r="1.62"/><circle cx="129.01" cy="204.41" r="1.62"/><circle cx="130.75" cy="203.56" r="1.62"/><circle cx="132.50" cy="204.12" r="1.62"/><circle cx="134.24" cy="202.31" r="1.62"/><circle cx="135.98" cy="202.23" r="1.62"/><circle cx="137.72" cy="203.88" r="1.62"/><circle cx="139.47" cy="203.15" r="1.62"/><circle cx="141.21" cy="204.01" r="1.62"/><circle cx="142.95" cy="203.60" r="1.62"/><circle cx="144.69" cy="204.67" r="1.62"/><circle cx="146.44" cy="205.45" r="1.62"/><circle cx="148.18" cy="205.60" r="1.62"/><circle cx="149.92" cy="204.10" r="1.62"/><circle cx="151.66" cy="202.81" r="1.62"/><circle cx="153.41" cy="204.24" r="1.62"/><circle cx="155.15" cy="204.83" r="1.62"/><circle cx="156.89" cy="203.12" r="1.62"/><circle cx="158.63" cy="204.30" r="1.62"/><circle cx="160.38" cy="204.39" r="1.62"/><circle cx="162.12" cy="204.28" r="1.62"/><circle cx="163.86" cy="204.55" r="1.62"/><circle cx="165.60" cy="204.66" r="1.62"/><circle cx="167.35" cy="205.43" r="1.62"/><circle cx="169.09" cy="204.07" r="1.62"/><circle cx="170.83" cy="204.46" r="1.62"/><circle cx="172.57" cy="203.54" r="1.62"/><circle cx="174.32" cy="204.57" r="1.62"/><circle cx="176.06" cy="205.57" r="1.62"/><circle cx="177.80" cy="204.28" r="1.62"/><circle cx="179.54" cy="202.98" r="1.62"/><circle cx="181.29" cy="204.32" r="1.62"/><circle cx="183.03" cy="204.58" r="1.62"/><circle cx="184.77" cy="204.69" r="1.62"/><circle cx="186.51" cy="204.49" r="1.62"/><circle cx="188.26" cy="203.87" r="1.62"/><circle cx="190.00" cy="204.34" r="1.62"/><circle cx="191.74" cy="202.41" r="1.62"/><circle cx="193.48" cy="203.48" r="1.62"/><circle cx="195.23" cy="203.09" r="1.62"/><circle cx="196.97" cy="202.07" r="1.62"/><circle cx="198.71" cy="201.89" r="1.62"/><circle cx="200.45" cy="202.91" r="1.62"/><circle cx="202.20" cy="202.41" r="1.62"/><circle cx="203.94" cy="202.02" r="1.62"/><circle cx="205.68" cy="202.51" r="1.62"/><circle cx="207.42" cy="203.45" r="1.62"/><circle cx="209.17" cy="201.72" r="1.62"/><circle cx="210.91" cy="201.45" r="1.62"/><circle cx="212.65" cy="201.67" r="1.62"/><circle cx="214.39" cy="202.44" r="1.62"/><circle cx="216.14" cy="201.86" r="1.62"/><circle cx="217.88" cy="202.01" r="1.62"/><circle cx="219.62" cy="201.71" r="1.62"/><circle cx="221.36" cy="200.56" r="1.62"/><circle cx="223.11" cy="200.30" r="1.62"/><circle cx="224.85" cy="200.76" r="1.62"/><circle cx="226.59" cy="200.74" r="1.62"/><circle cx="228.33" cy="200.56" r="1.62"/><circle cx="230.08" cy="200.91" r="1.62"/><circle cx="231.82" cy="200.85" r="1.62"/><circle cx="233.56" cy="201.15" r="1.62"/><circle cx="235.30" cy="200.65" r="1.62"/><circle cx="237.05" cy="199.05" r="1.62"/><circle cx="238.79" cy="199.86" r="1.62"/><circle cx="240.53" cy="200.56" r="1.62"/><circle cx="242.27" cy="200.55" r="1.62"/><circle cx="244.02" cy="200.71" r="1.62"/><circle cx="245.76" cy="199.82" r="1.62"/><circle cx="247.50" cy="199.72" r="1.62"/><circle cx="249.24" cy="200.82" r="1.62"/><circle cx="250.99" cy="199.49" r="1.62"/><circle cx="252.73" cy="200.08" r="1.62"/><circle cx="254.47" cy="198.71" r="1.62"/><circle cx="256.21" cy="199.44" r="1.62"/><circle cx="257.96" cy="198.35" r="1.62"/><circle cx="259.70" cy="199.66" r="1.62"/><circle cx="261.44" cy="199.46" r="1.62"/><circle cx="263.18" cy="199.00" r="1.62"/><circle cx="264.93" cy="198.43" r="1.62"/><circle cx="266.67" cy="198.66" r="1.62"/><circle cx="268.41" cy="199.73" r="1.62"/><circle cx="270.15" cy="198.76" r="1.62"/><circle cx="271.90" cy="198.79" r="1.62"/><circle cx="273.64" cy="199.00" r="1.62"/><circle cx="275.38" cy="199.08" r="1.62"/><circle cx="277.12" cy="197.49" r="1.62"/><circle cx="278.87" cy="198.79" r="1.62"/><circle cx="280.61" cy="199.02" r="1.62"/><circle cx="282.35" cy="198.03" r="1.62"/><circle cx="284.09" cy="198.30" r="1.62"/><circle cx="285.84" cy="198.39" r="1.62"/><circle cx="287.58" cy="197.80" r="1.62"/><circle cx="289.32" cy="197.95" r="1.62"/><circle cx="291.06" cy="198.00" r="1.62"/><circle cx="292.81" cy="197.59" r="1.62"/><circle cx="294.55" cy="197.99" r="1.62"/><circle cx="296.29" cy="198.54" r="1.62"/><circle cx="298.03" cy="198.36" r="1.62"/><circle cx="299.78" cy="198.44" r="1.62"/><circle cx="301.52" cy="197.97" r="1.62"/><circle cx="303.26" cy="198.77" r="1.62"/><circle cx="305.00" cy="199.23" r="1.62"/><circle cx="306.75" cy="198.02" r="1.62"/><circle cx="308.49" cy="198.91" r="1.62"/><circle cx="310.23" cy="199.29" r="1.62"/><circle cx="311.97" cy="197.82" r="1.62"/><circle cx="313.72" cy="198.50" r="1.62"/><circle cx="315.46" cy="197.74" r="1.62"/><circle cx="317.20" cy="198.38" r="1.62"/><circle cx="318.94" cy="198.74" r="1.62"/><circle cx="320.69" cy="198.81" r="1.62"/><circle cx="322.43" cy="198.35" r="1.62"/><circle cx="324.17" cy="198.19" r="1.62"/><circle cx="325.91" cy="198.53" r="1.62"/><circle cx="327.66" cy="198.18" r="1.62"/><circle cx="329.40" cy="198.95" r="1.62"/><circle cx="331.14" cy="197.96" r="1.62"/><circle cx="332.88" cy="199.08" r="1.62"/><circle cx="334.63" cy="198.06" r="1.62"/><circle cx="336.37" cy="197.49" r="1.62"/><circle cx="338.11" cy="197.22" r="1.62"/><circle cx="339.85" cy="196.82" r="1.62"/><circle cx="341.60" cy="198.84" r="1.62"/><circle cx="343.34" cy="197.37" r="1.62"/><circle cx="345.08" cy="197.07" r="1.62"/><circle cx="346.82" cy="197.19" r="1.62"/><circle cx="348.57" cy="198.36" r="1.62"/><circle cx="350.31" cy="197.51" r="1.62"/><circle cx="352.05" cy="196.58" r="1.62"/><circle cx="353.79" cy="198.65" r="1.62"/><circle cx="355.54" cy="197.40" r="1.62"/><circle cx="357.28" cy="196.98" r="1.62"/><circle cx="359.02" cy="198.09" r="1.62"/><circle cx="360.76" cy="197.27" r="1.62"/><circle cx="362.51" cy="198.28" r="1.62"/><circle cx="364.25" cy="198.10" r="1.62"/><circle cx="365.99" cy="198.08" r="1.62"/><circle cx="367.73" cy="197.44" r="1.62"/><circle cx="369.48" cy="197.59" r="1.62"/><circle cx="371.22" cy="196.93" r="1.62"/><circle cx="372.96" cy="198.08" r="1.62"/><circle cx="374.70" cy="197.57" r="1.62"/><circle cx="376.45" cy="196.87" r="1.62"/><circle cx="378.19" cy="197.11" r="1.62"/><circle cx="379.93" cy="198.26" r="1.62"/><circle cx="381.67" cy="197.02" r="1.62"/><circle cx="383.42" cy="197.71" r="1.62"/><circle cx="385.16" cy="197.17" r="1.62"/><circle cx="386.90" cy="197.21" r="1.62"/><circle cx="388.64" cy="196.63" r="1.62"/><circle cx="390.39" cy="197.31" r="1.62"/><circle cx="392.13" cy="198.52" r="1.62"/></g><path d="M48.5,13.9V30.3M50.5,47.5V58.5M52.5,86.0V93.4M54.0,99.0V104.4M55.5,113.0V117.6" stroke="#444" stroke-width="1"/><path d="M44.50,-52.85L45.00,-39.24L45.50,-25.01L46.00,-9.44L46.49,4.71L46.99,15.50L47.49,24.73L47.99,32.88L48.49,40.30L48.99,46.91L49.49,52.82L49.98,58.37L50.48,63.82L50.98,69.38L51.48,75.16L51.98,81.00L52.48,86.69L52.98,92.11L53.47,97.12L53.97,101.64L54.47,105.81L54.97,109.72L55.47,113.37L55.97,116.78L56.47,119.94L56.96,122.87L57.46,125.55L57.96,128.00L58.46,130.29L58.96,132.49L59.46,134.66L59.96,136.85L60.45,139.06L60.95,141.22L61.45,143.34L61.95,145.41L62.45,147.42L62.95,149.38L63.45,151.29L63.94,153.13L64.44,154.91L64.94,156.63L65.44,158.30L65.94,159.95L66.44,161.55L66.94,163.10L67.43,164.58L67.93,165.98L68.43,167.29L68.93,168.52L69.43,169.66L69.93,170.71L70.43,171.68L70.92,172.59L71.42,173.45L71.92,174.26L72.42,175.03L72.92,175.76L73.42,176.45L73.92,177.11L74.41,177.74L74.91,178.35L75.41,178.93L75.91,179.48L76.41,180.01L76.91,180.53L77.41,181.05L77.90,181.58L78.40,182.11L78.90,182.63L79.40,183.15L79.90,183.64L80.40,184.13L80.90,184.61L81.39,185.07L81.89,185.51L82.39,185.93L82.89,186.33L83.39,186.72L83.89,187.10L84.39,187.46L84.88,187.82L85.38,188.18L85.88,188.53L86.38,188.87L86.88,189.21L87.38,189.54L87.88,189.87L88.37,190.19L88.87,190.50L89.37,190.80L89.87,191.11L90.37,191.40L90.87,191.69L91.37,191.98L91.86,192.26L92.36,192.54L92.86,192.81L93.36,193.07L93.86,193.33L94.36,193.58L94.86,193.82L95.35,194.06L95.85,194.29L96.35,194.52L96.85,194.74L97.35,194.95L97.85,195.16L98.35,195.37L98.84,195.56L99.34,195.76L99.84,195.95L100.34,196.14L100.84,196.32L101.34,196.50L101.84,196.68L102.33,196.85L102.83,197.02L103.33,197.18L103.83,197.35L104.33,197.51L104.83,197.67L105.33,197.83L105.82,197.99L106.32,198.14L106.82,198.30L107.32,198.45L107.82,198.60L108.32,198.75L108.82,198.89L109.31,199.03L109.81,199.17L110.31,199.31L110.81,199.45L111.31,199.58L111.81,199.71L112.31,199.83L112.80,199.95L113.30,200.07L113.80,200.19L114.30,200.31L114.80,200.42L115.30,200.53L115.80,200.64L116.29,200.75L116.79,200.86L117.29,200.97L117.79,201.08L118.29,201.18L118.79,201.29L119.29,201.39L119.78,201.49L120.28,201.58L120.78,201.68L121.28,201.77L121.78,201.86L122.28,201.94L122.78,202.03L123.27,202.11L123.77,202.19L124.27,202.26L124.77,202.34L125.27,202.41L125.77,202.48L126.27,202.55L126.76,202.61L127.26,202.68L127.76,202.74L128.26,202.80L128.76,202.86L129.26,202.92L129.76,202.97L130.25,203.02L130.75,203.07L131.25,203.12L131.75,203.17L132.25,203.22L132.75,203.26L133.25,203.30L133.74,203.34L134.24,203.38L134.74,203.42L135.24,203.46L135.74,203.50L136.24,203.53L136.74,203.57L137.23,203.60L137.73,203.64L138.23,203.67L138.73,203.71L139.23,203.74L139.73,203.78L140.23,203.81L140.72,203.85L141.22,203.88L141.72,203.92L142.22,203.96L142.72,203.99L143.22,204.03L143.72,204.06L144.21,204.09L144.71,204.13L145.21,204.16L145.71,204.19L146.21,204.22L146.71,204.24L147.21,204.27L147.70,204.29L148.20,204.31L148.70,204.33L149.20,204.35L149.70,204.36L150.20,204.37L150.70,204.39L151.19,204.40L151.69,204.41L152.19,204.42L152.69,204.42L153.19,204.43L153.69,204.44L154.19,204.44L154.68,204.45L155.18,204.46L155.68,204.46L156.18,204.46L156.68,204.47L157.18,204.47L157.68,204.47L158.17,204.47L158.67,204.47L159.17,204.47L159.67,204.47L160.17,204.47L160.67,204.46L161.17,204.46L161.66,204.46L162.16,204.46L162.66,204.46L163.16,204.46L163.66,204.46L164.16,204.46L164.66,204.45L165.15,204.45L165.65,204.45L166.15,204.45L166.65,204.44L167.15,204.44L167.65,204.44L168.15,204.43L168.64,204.43L169.14,204.42L169.64,204.41L170.14,204.40L170.64,204.40L171.14,204.39L171.64,204.38L172.13,204.37L172.63,204.36L173.13,204.35L173.63,204.33L174.13,204.32L174.63,204.31L175.13,204.29L175.62,204.28L176.12,204.26L176.62,204.25L177.12,204.23L177.62,204.21L178.12,204.20L178.62,204.18L179.11,204.16L179.61,204.14L180.11,204.12L180.61,204.09L181.11,204.07L181.61,204.05L182.11,204.02L182.60,204.00L183.10,203.97L183.60,203.95L184.10,203.92L184.60,203.89L185.10,203.86L185.60,203.83L186.09,203.80L186.59,203.77L187.09,203.74L187.59,203.71L188.09,203.68L188.59,203.64L189.09,203.61L189.58,203.57L190.08,203.54L190.58,203.50L191.08,203.47L191.58,203.43L192.08,203.40L192.58,203.36L193.07,203.32L193.57,203.29L194.07,203.25L194.57,203.21L195.07,203.17L195.57,203.14L196.07,203.10L196.56,203.06L197.06,203.02L197.56,202.98L198.06,202.95L198.56,202.91L199.06,202.87L199.56,202.83L200.05,202.80L200.55,202.76L201.05,202.72L201.55,202.68L202.05,202.65L202.55,202.61L203.05,202.57L203.54,202.54L204.04,202.50L204.54,202.46L205.04,202.43L205.54,202.39L206.04,202.36L206.54,202.33L207.03,202.29L207.53,202.26L208.03,202.23L208.53,202.19L209.03,202.16L209.53,202.13L210.03,202.10L210.52,202.07L211.02,202.04L211.52,202.01L212.02,201.98L212.52,201.95L213.02,201.92L213.52,201.89L214.01,201.86L214.51,201.83L215.01,201.80L215.51,201.77L216.01,201.74L216.51,201.71L217.01,201.68L217.50,201.65L218.00,201.62L218.50,201.59L219.00,201.56L219.50,201.52L220.00,201.49L220.49,201.46L220.99,201.43L221.49,201.40L221.99,201.37L222.49,201.34L222.99,201.31L223.49,201.28L223.98,201.25L224.48,201.22L224.98,201.19L225.48,201.17L225.98,201.14L226.48,201.11L226.98,201.08L227.47,201.05L227.97,201.02L228.47,200.99L228.97,200.96L229.47,200.94L229.97,200.91L230.47,200.88L230.96,200.85L231.46,200.82L231.96,200.80L232.46,200.77L232.96,200.74L233.46,200.71L233.96,200.69L234.45,200.66L234.95,200.63L235.45,200.61L235.95,200.58L236.45,200.55L236.95,200.53L237.45,200.50L237.94,200.47L238.44,200.45L238.94,200.42L239.44,200.39L239.94,200.37L240.44,200.34L240.94,200.31L241.43,200.29L241.93,200.26L242.43,200.24L242.93,200.21L243.43,200.19L243.93,200.16L244.43,200.13L244.92,200.11L245.42,200.08L245.92,200.06L246.42,200.03L246.92,200.01L247.42,199.98L247.92,199.96L248.41,199.93L248.91,199.90L249.41,199.88L249.91,199.85L250.41,199.83L250.91,199.80L251.41,199.78L251.90,199.75L252.40,199.73L252.90,199.70L253.40,199.68L253.90,199.65L254.40,199.63L254.90,199.60L255.39,199.58L255.89,199.55L256.39,199.53L256.89,199.50L257.39,199.48L257.89,199.45L258.39,199.43L258.88,199.40L259.38,199.38L259.88,199.35L260.38,199.33L260.88,199.30L261.38,199.28L261.88,199.25L262.37,199.23L262.87,199.20L263.37,199.18L263.87,199.16L264.37,199.13L264.87,199.11L265.37,199.09L265.86,199.06L266.36,199.04L266.86,199.02L267.36,198.99L267.86,198.97L268.36,198.95L268.86,198.93L269.35,198.91L269.85,198.89L270.35,198.86L270.85,198.84L271.35,198.82L271.85,198.80L272.35,198.78L272.84,198.76L273.34,198.74L273.84,198.72L274.34,198.70L274.84,198.69L275.34,198.67L275.84,198.65L276.33,198.63L276.83,198.61L277.33,198.59L277.83,198.58L278.33,198.56L278.83,198.54L279.33,198.53L279.82,198.51L280.32,198.50L280.82,198.48L281.32,198.46L281.82,198.45L282.32,198.43L282.82,198.42L283.31,198.41L283.81,198.39L284.31,198.38L284.81,198.37L285.31,198.35L285.81,198.34L286.31,198.33L286.80,198.32L287.30,198.30L287.80,198.29L288.30,198.28L288.80,198.27L289.30,198.26L289.80,198.25L290.29,198.24L290.79,198.23L291.29,198.22L291.79,198.22L292.29,198.21L292.79,198.20L293.29,198.19L293.78,198.18L294.28,198.18L294.78,198.17L295.28,198.16L295.78,198.16L296.28,198.15L296.78,198.15L297.27,198.14L297.77,198.14L298.27,198.13L298.77,198.13L299.27,198.12L299.77,198.12L300.27,198.11L300.76,198.11L301.26,198.10L301.76,198.10L302.26,198.10L302.76,198.09L303.26,198.09L303.76,198.09L304.25,198.09L304.75,198.08L305.25,198.08L305.75,198.08L306.25,198.08L306.75,198.07L307.25,198.07L307.74,198.07L308.24,198.07L308.74,198.07L309.24,198.07L309.74,198.06L310.24,198.06L310.74,198.06L311.23,198.06L311.73,198.06L312.23,198.06L312.73,198.06L313.23,198.05L313.73,198.05L314.23,198.05L314.72,198.05L315.22,198.05L315.72,198.05L316.22,198.05L316.72,198.05L317.22,198.05L317.72,198.04L318.21,198.04L318.71,198.04L319.21,198.04L319.71,198.04L320.21,198.04L320.71,198.04L321.21,198.03L321.70,198.03L322.20,198.03L322.70,198.03L323.20,198.03L323.70,198.02L324.20,198.02L324.70,198.02L325.19,198.02L325.69,198.01L326.19,198.01L326.69,198.01L327.19,198.01L327.69,198.00L328.19,198.00L328.68,197.99L329.18,197.99L329.68,197.99L330.18,197.98L330.68,197.98L331.18,197.97L331.68,197.97L332.17,197.96L332.67,197.96L333.17,197.95L333.67,197.95L334.17,197.94L334.67,197.94L335.17,197.93L335.66,197.93L336.16,197.92L336.66,197.92L337.16,197.91L337.66,197.91L338.16,197.90L338.66,197.90L339.15,197.89L339.65,197.89L340.15,197.88L340.65,197.88L341.15,197.87L341.65,197.86L342.15,197.86L342.64,197.85L343.14,197.85L343.64,197.84L344.14,197.84L344.64,197.83L345.14,197.82L345.64,197.82L346.13,197.81L346.63,197.81L347.13,197.80L347.63,197.79L348.13,197.79L348.63,197.78L349.13,197.78L349.62,197.77L350.12,197.76L350.62,197.76L351.12,197.75L351.62,197.75L352.12,197.74L352.62,197.73L353.11,197.73L353.61,197.72L354.11,197.71L354.61,197.71L355.11,197.70L355.61,197.70L356.11,197.69L356.60,197.68L357.10,197.68L357.60,197.67L358.10,197.67L358.60,197.66L359.10,197.65L359.60,197.65L360.09,197.64L360.59,197.64L361.09,197.63L361.59,197.62L362.09,197.62L362.59,197.61L363.09,197.61L363.58,197.60L364.08,197.60L364.58,197.59L365.08,197.58L365.58,197.58L366.08,197.57L366.58,197.57L367.07,197.56L367.57,197.56L368.07,197.55L368.57,197.55L369.07,197.54L369.57,197.54L370.07,197.53L370.56,197.53L371.06,197.52L371.56,197.52L372.06,197.51L372.56,197.51L373.06,197.50L373.56,197.50L374.05,197.49L374.55,197.49L375.05,197.48L375.55,197.48L376.05,197.47L376.55,197.47L377.05,197.46L377.54,197.46L378.04,197.46L378.54,197.45L379.04,197.45L379.54,197.44L380.04,197.44L380.54,197.44L381.03,197.43L381.53,197.43L382.03,197.43L382.53,197.42L383.03,197.42L383.53,197.42L384.03,197.41L384.52,197.41L385.02,197.41L385.52,197.40L386.02,197.40L386.52,197.40L387.02,197.40L387.52,197.39L388.01,197.39L388.51,197.39L389.01,197.39L389.51,197.39L390.01,197.38L390.51,197.38L391.01,197.38L391.50,197.38L392.00,197.38L392.50,197.38L393.00,197.38" stroke="#ff0000" stroke-width="1.1"/></g><path d="M44.50,255.5v-9.3M44.50,5.0v9.3M61.92,255.5v-4.7M61.92,5.0v4.7M79.35,255.5v-4.7M79.35,5.0v4.7M96.78,255.5v-4.7M96.78,5.0v4.7M114.20,255.5v-4.7M114.20,5.0v4.7M131.62,255.5v-9.3M131.62,5.0v9.3M149.05,255.5v-4.7M149.05,5.0v4.7M166.48,255.5v-4.7M166.48,5.0v4.7M183.90,255.5v-4.7M183.90,5.0v4.7M201.33,255.5v-4.7M201.33,5.0v4.7M218.75,255.5v-9.3M218.75,5.0v9.3M236.18,255.5v-4.7M236.18,5.0v4.7M253.60,255.5v-4.7M253.60,5.0v4.7M271.02,255.5v-4.7M271.02,5.0v4.7M288.45,255.5v-4.7M288.45,5.0v4.7M305.88,255.5v-9.3M305.88,5.0v9.3M323.30,255.5v-4.7M323.30,5.0v4.7M340.73,255.5v-4.7M340.73,5.0v4.7M358.15,255.5v-4.7M358.15,5.0v4.7M375.58,255.5v-4.7M375.58,5.0v4.7M393.00,255.5v-9.3M393.00,5.0v9.3M44.5,255.50h9.3M393.0,255.50h-9.3M44.5,241.58h4.7M393.0,241.58h-4.7M44.5,227.67h4.7M393.0,227.67h-4.7M44.5,213.75h4.7M393.0,213.75h-4.7M44.5,199.83h9.3M393.0,199.83h-9.3M44.5,185.92h4.7M393.0,185.92h-4.7M44.5,172.00h4.7M393.0,172.00h-4.7M44.5,158.08h4.7M393.0,158.08h-4.7M44.5,144.17h9.3M393.0,144.17h-9.3M44.5,130.25h4.7M393.0,130.25h-4.7M44.5,116.33h4.7M393.0,116.33h-4.7M44.5,102.42h4.7M393.0,102.42h-4.7M44.5,88.50h9.3M393.0,88.50h-9.3M44.5,74.58h4.7M393.0,74.58h-4.7M44.5,60.67h4.7M393.0,60.67h-4.7M44.5,46.75h4.7M393.0,46.75h-4.7M44.5,32.83h9.3M393.0,32.83h-9.3M44.5,18.92h4.7M393.0,18.92h-4.7M44.5,5.00h4.7M393.0,5.00h-4.7" fill="none" stroke="#000" stroke-width="1"/><path d="M44.5,5.0H393.0V255.5H44.5Z" fill="none" stroke="#000" stroke-width="1"/><g font-family="Liberation Serif, serif" font-size="14.7" fill="#000" opacity="0.996" style="font-kerning:none"><text x="35" y="260.30" text-anchor="end">0.8</text><text x="35" y="204.63" text-anchor="end">1</text><text x="35" y="148.97" text-anchor="end">1.2</text><text x="35" y="93.30" text-anchor="end">1.4</text><text x="35" y="37.63" text-anchor="end">1.6</text><text x="44.20" y="274.7" text-anchor="middle">0</text><text x="131.32" y="274.7" text-anchor="middle">0.5</text><text x="218.45" y="274.7" text-anchor="middle">1</text><text x="305.57" y="274.7" text-anchor="middle">1.5</text><text x="392.70" y="274.7" text-anchor="middle">2</text><text x="218.1" y="27.3">CMS 7 TeV</text><text x="233.4" y="277.7"><tspan font-style="italic">Q</tspan> [GeV]</text><text transform="translate(14.6,165) rotate(-90)"><tspan font-style="italic">N</tspan><tspan font-size="10.2" dy="-5.8" dx="0.8">(2+:2&#8722;)</tspan><tspan dy="5.8">/</tspan><tspan font-style="italic">N</tspan><tspan font-size="10.2" dy="-5.8" dx="0.4">BG</tspan></text></g><g font-family="Liberation Serif, serif" font-size="14.7" opacity="0.996" style="font-kerning:none"><text x="331.5" y="47.2" text-anchor="end" fill="#ff0000">CF<tspan font-size="10.8" dy="1.5">II</tspan><tspan dy="-1.1" dx="-0.9" font-size="16.5">&#215;</tspan><tspan dy="-0.4" dx="-0.9">LRC</tspan><tspan font-size="10.8" dy="3">(<tspan font-style="italic">&#945;,&#946;,</tspan>n=2)</tspan></text><text x="331.5" y="62.2" text-anchor="end" fill="#00ff00">LRC<tspan font-size="10.8" dy="3">(<tspan font-style="italic">&#945;,&#946;,</tspan>n=2)</tspan></text><text x="331.5" y="77.2" text-anchor="end" fill="#0000ff">(1<tspan dx="1.2">+</tspan><tspan font-style="italic" dx="0.9" font-size="16">&#955;</tspan><tspan font-size="10.8" dy="2">1</tspan><tspan dy="-2" font-style="italic">E</tspan><tspan font-size="10.8" dy="2">BE</tspan><tspan font-size="8" dy="2">1</tspan><tspan dy="-4">)</tspan><tspan dy="0.4" dx="-0.9" font-size="16.5">&#215;</tspan><tspan dy="-0.4" dx="-0.9">LRC</tspan><tspan font-size="10.8" dy="3">(<tspan font-style="italic">&#945;,&#946;,n</tspan>=2)</tspan></text><text x="331.5" y="92.2" text-anchor="end" fill="#00ffff"><tspan font-style="italic">c</tspan>(1<tspan dx="1.2">+</tspan><tspan font-style="italic" dx="0.9" font-size="16">&#955;</tspan><tspan font-size="10.8" dy="2">2</tspan><tspan dy="-2" font-style="italic">E</tspan><tspan font-size="10.8" dy="2">BE</tspan><tspan font-size="8" dy="2">2</tspan><tspan dy="-4">)</tspan></text></g><g fill="none" stroke-width="1"><path d="M340.4,42.4H379.3" stroke="#ff0000"/><path d="M340.4,57.3H379.3" stroke="#00ff00" stroke-dasharray="3.3,1.15"/><path d="M340.4,72.2H379.3" stroke="#0000ff" stroke-dasharray="1.7,2"/><path d="M340.4,87H379.3" stroke="#00ffff" stroke-dasharray="4.4,1,0.9,1"/></g></svg>
</body></html>
